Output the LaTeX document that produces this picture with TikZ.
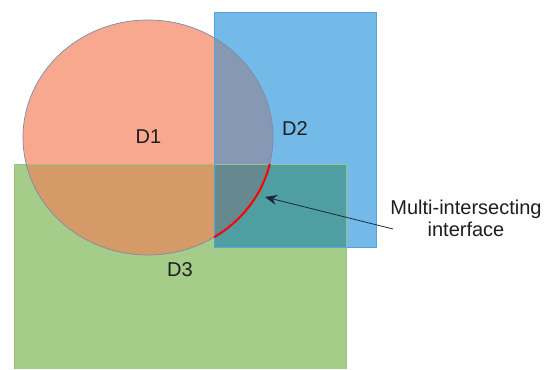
\documentclass[tikz,border=0pt]{standalone}
\usepackage{fontspec}
\setmainfont{Liberation Sans}
\usetikzlibrary{arrows.meta}
\definecolor{salmon}{HTML}{F8A88F}
\definecolor{bluebox}{HTML}{74BAE8}
\definecolor{greenbox}{HTML}{A6CC89}
\definecolor{cb}{HTML}{8698B3}
\definecolor{cg}{HTML}{D49B68}
\definecolor{bg}{HTML}{4E9EA2}
\definecolor{cbg}{HTML}{66898F}
\definecolor{circedge}{HTML}{7D8AA5}
\definecolor{blueedge}{HTML}{5AA3D6}
\definecolor{greenedge}{HTML}{9CC182}
\definecolor{txt}{HTML}{1E1E1E}
\definecolor{arrowc}{HTML}{1C2838}
\tikzset{
  lbl/.style={font=\fontsize{20}{22}\selectfont, text=txt, inner sep=0pt},
  pointer/.style={-{Stealth[length=12pt,width=10pt]}, draw=arrowc, line width=0.8pt},
}
\begin{document}
\begin{tikzpicture}[x=1pt,y=1pt]
\useasboundingbox (0,0) rectangle (548,369);
\fill[white] (0,0) rectangle (548,369);
% base shapes
\fill[greenbox] (14,0) rectangle (346,205);
\fill[bluebox] (214,122) rectangle (376,357);
\begin{scope}
  \clip (214,122) rectangle (376,357);
  \fill[bg] (14,0) rectangle (346,205);
\end{scope}
\fill[salmon] (148,231.5) ellipse [x radius=125, y radius=117.5];
% overlaps with the circle
\begin{scope}
  \clip (148,231.5) ellipse [x radius=125, y radius=117.5];
  \fill[cb] (214,122) rectangle (376,357);
  \fill[cg] (14,0) rectangle (346,205);
  \clip (214,122) rectangle (376,357);
  \fill[cbg] (14,0) rectangle (346,205);
\end{scope}
% edges
\draw[greenedge, line width=0.5pt] (14,0) -- (14,205) -- (346,205) -- (346,0);
\draw[blueedge, line width=0.6pt] (214,122) rectangle (376,357);
\draw[circedge, line width=0.7pt] (148,231.5) ellipse [x radius=125, y radius=117.5];
% red interface
\draw[red, line width=2pt] (269.8,205.1) arc[start angle=-13, end angle=-58.1, x radius=125, y radius=117.5];
% labels
\node[lbl] (d1) at (148.5,232) {D1};
\node[lbl] (d2) at (295,240) {D2};
\node[lbl] (d3) at (180,99) {D3};
\node[lbl, align=center] (mi) at (466,151) {Multi-intersecting\\interface};
\coordinate (tail) at (393,140);
\coordinate (tip) at (265,172);
\draw[pointer] (tail) -- (tip);
\end{tikzpicture}
\end{document}
